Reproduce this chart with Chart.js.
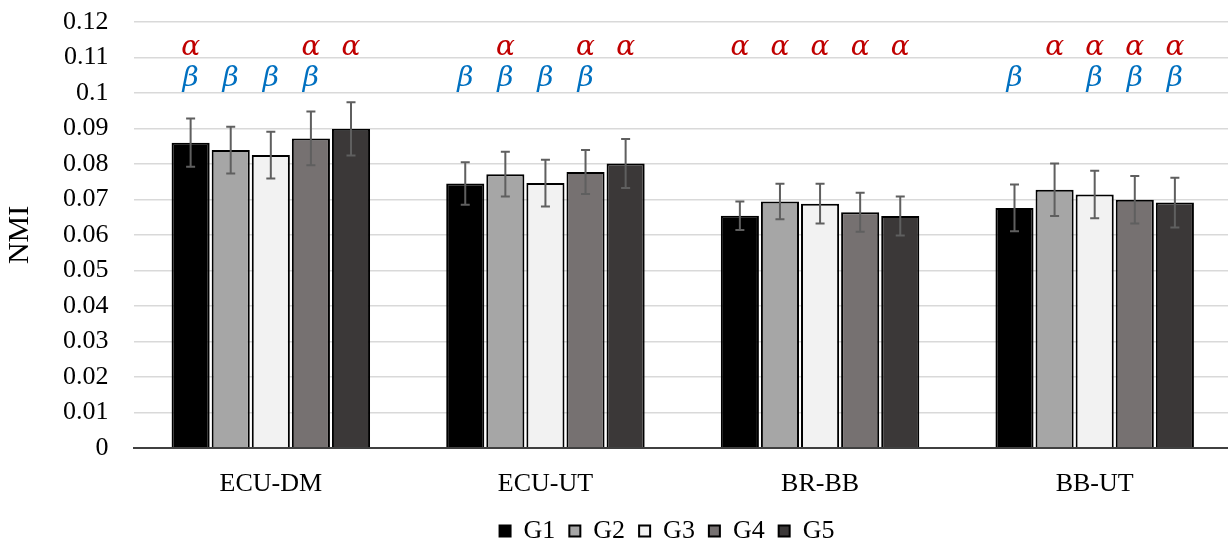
<!DOCTYPE html>
<html>
<head>
<meta charset="utf-8">
<script src="https://cdn.jsdelivr.net/npm/chart.js@4/dist/chart.umd.min.js"></script>
<style>
  html, body { margin: 0; padding: 0; background: #fff; overflow: hidden; }
</style>
</head>
<body>
<canvas id="nmi-chart" width="1232" height="542"></canvas>
<script>
// categories and groups
var categories = ['ECU-DM', 'ECU-UT', 'BR-BB', 'BB-UT'];
var groupNames = ['G1', 'G2', 'G3', 'G4', 'G5'];
var yTicks = [0, 0.01, 0.02, 0.03, 0.04, 0.05, 0.06, 0.07, 0.08, 0.09, 0.1, 0.11, 0.12];

// mean NMI per group, one value per category
var g1 = [0.0860, 0.0745, 0.0654, 0.0676];
var g2 = [0.0839, 0.0771, 0.0694, 0.0727];
var g3 = [0.0825, 0.0746, 0.0688, 0.0714];
var g4 = [0.0872, 0.0777, 0.0664, 0.0699];
var g5 = [0.0899, 0.0801, 0.0653, 0.0691];

// error bar half-lengths
var g1Err = [0.0068, 0.0060, 0.0040, 0.0066];
var g2Err = [0.0066, 0.0063, 0.0050, 0.0074];
var g3Err = [0.0066, 0.0066, 0.0056, 0.0067];
var g4Err = [0.0076, 0.0062, 0.0055, 0.0067];
var g5Err = [0.0075, 0.0069, 0.0055, 0.0070];

// significance marks (1 = shown), rows are categories, columns groups
var alphaMarks = [[1, 0, 0, 1, 1], [0, 1, 0, 1, 1], [1, 1, 1, 1, 1], [0, 1, 1, 1, 1]];
var betaMarks  = [[1, 1, 1, 1, 0], [1, 1, 1, 1, 0], [0, 0, 0, 0, 0], [1, 0, 1, 1, 1]];
var alphaLevel = 0.1128;
var betaLevel = 0.1040;

var fills = ['#000000', '#a6a6a6', '#f2f2f2', '#767171', '#3b3838'];
var seriesData = [g1, g2, g3, g4, g5];
var seriesErr = [g1Err, g2Err, g3Err, g4Err, g5Err];

// error bars + alpha/beta markers
var overlayPlugin = {
    id: 'overlay',
    afterLayout: function (chart) {
        // legend sits under the plot area, not the whole canvas
        chart.legend.left += 55;
        chart.legend.right += 55;
    },
    afterDatasetsDraw: function (chart) {
        var ctx = chart.ctx;
        var y = chart.scales.y;
        ctx.save();
        chart.data.datasets.forEach(function (ds, di) {
            var meta = chart.getDatasetMeta(di);
            meta.data.forEach(function (bar, ci) {
                var v = seriesData[di][ci];
                var e = seriesErr[di][ci];
                var top = y.getPixelForValue(v + e);
                var bot = y.getPixelForValue(v - e);
                ctx.strokeStyle = '#5f5f5f';
                ctx.lineWidth = 2;
                ctx.beginPath();
                ctx.moveTo(bar.x, top); ctx.lineTo(bar.x, bot);
                ctx.moveTo(bar.x - 4.5, top); ctx.lineTo(bar.x + 4.5, top);
                ctx.moveTo(bar.x - 4.5, bot); ctx.lineTo(bar.x + 4.5, bot);
                ctx.stroke();

                ctx.font = 'italic 28px "DejaVu Serif"';
                ctx.textAlign = 'center';
                ctx.textBaseline = 'middle';
                if (alphaMarks[ci][di]) {
                    ctx.fillStyle = '#c00000';
                    ctx.fillText('\u03b1', bar.x, y.getPixelForValue(alphaLevel));
                }
                if (betaMarks[ci][di]) {
                    ctx.fillStyle = '#0070c0';
                    ctx.fillText('\u03b2', bar.x, y.getPixelForValue(betaLevel));
                }
            });
        });
        ctx.restore();
    }
};

var ctx = document.getElementById('nmi-chart').getContext('2d');
var nmiChart = new Chart(ctx, {
    type: 'bar',
    data: {
        labels: categories,
        datasets: groupNames.map(function (name, i) {
            return {
                label: name,
                data: seriesData[i],
                backgroundColor: fills[i],
                borderColor: '#000000',
                borderWidth: 2,
                borderSkipped: 'bottom',
                categoryPercentage: 0.73,
                barPercentage: 0.95
            };
        })
    },
    options: {
        responsive: false,
        animation: false,
        layout: { padding: { top: 22, right: 0, left: -8, bottom: -12 } },
        plugins: {
            tooltip: { enabled: false },
            legend: {
                position: 'bottom',
                labels: {
                    color: '#000',
                    font: { family: 'Liberation Serif', size: 26 },
                    boxWidth: 11,
                    boxHeight: 11,
                    padding: 14
                }
            }
        },
        scales: {
            x: {
                grid: { display: false, drawTicks: false },
                border: { color: '#404040', width: 2 },
                afterFit: function (scale) { scale.height -= 17; },
                ticks: {
                    color: '#000',
                    padding: 21,
                    font: { family: 'Liberation Serif', size: 26 }
                }
            },
            y: {
                min: 0,
                max: 0.12,
                afterBuildTicks: function (scale) {
                    scale.ticks = yTicks.map(function (v) { return { value: v }; });
                },
                afterFit: function (scale) { scale.paddingTop = 0; },
                grid: { color: '#d9d9d9', lineWidth: 1.5, drawTicks: false },
                border: { display: false },
                title: {
                    display: true,
                    text: 'NMI',
                    color: '#000',
                    padding: { top: 10, bottom: 0 },
                    font: { family: 'Liberation Serif', size: 30 }
                },
                ticks: {
                    color: '#000',
                    padding: 25,
                    autoSkip: false,
                    font: { family: 'Liberation Serif', size: 26 },
                    callback: function (v) { return String(+v.toFixed(2)); }
                }
            }
        }
    },
    plugins: [overlayPlugin]
});
</script>
</body>
</html>
